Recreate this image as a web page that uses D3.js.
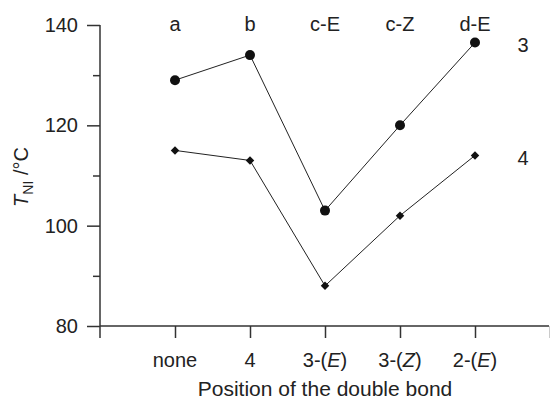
<!DOCTYPE html>
<html><head><meta charset="utf-8">
<script src="https://cdn.jsdelivr.net/npm/d3@7"></script>
<style>body{margin:0;background:#fff}text{font-family:"Liberation Sans",Arial,sans-serif;fill:#222}</style>
</head><body><svg id="c" width="550" height="401"></svg>
<script>
const categories = ["none", "4", "3-(E)", "3-(Z)", "2-(E)"];
const topLabels = ["a", "b", "c-E", "c-Z", "d-E"];
const series3 = [129, 134, 103, 120, 136.5];
const series4 = [115, 113, 88, 102, 114];
const yTicks = [80, 100, 120, 140];
const yMinor = [90, 110, 130];

const svg = d3.select("#c");
const x = d3.scaleLinear().domain([0, 6]).range([100, 550]);
const y = d3.scaleLinear().domain([80, 140]).range([326, 25]);
const axisColor = "#333";

// Y axis
const yAxis = svg.append("g").attr("transform", "translate(100,0)")
  .call(d3.axisLeft(y).tickValues(yTicks).tickSize(13).tickPadding(9).tickFormat(d3.format("d")));
yAxis.select(".domain").remove();
yAxis.selectAll(".tick line").attr("stroke", axisColor).attr("stroke-width", 1.5);
yAxis.selectAll("text").attr("font-size", 20).style("fill", "#222").attr("font-family", "Liberation Sans, Arial, sans-serif");
svg.append("g").attr("transform", "translate(100,0)")
  .call(d3.axisLeft(y).tickValues(yMinor).tickSize(7).tickFormat(""))
  .call(g => g.select(".domain").remove())
  .selectAll(".tick line").attr("stroke", axisColor).attr("stroke-width", 1.5);
svg.append("line").attr("x1", 100).attr("x2", 100).attr("y1", y(140)).attr("y2", 338)
  .attr("stroke", axisColor).attr("stroke-width", 1.5);

// X axis
const xAxis = svg.append("g").attr("transform", `translate(0,${y(80)})`)
  .call(d3.axisBottom(x).tickValues([1,2,3,4,5,6]).tickSize(12).tickFormat(""));
xAxis.select(".domain").remove();
xAxis.selectAll(".tick line").attr("stroke", axisColor).attr("stroke-width", 1.5);
svg.append("line").attr("x1", 100).attr("x2", 549).attr("y1", y(80)).attr("y2", y(80))
  .attr("stroke", axisColor).attr("stroke-width", 1.5);

// Category labels
categories.forEach((c, i) => {
  const t = svg.append("text").attr("x", x(i + 1)).attr("y", 367).attr("text-anchor", "middle").attr("font-size", 20);
  const m = c.match(/^(.*\()([EZ])(\))$/);
  if (m) {
    t.append("tspan").text(m[1]);
    t.append("tspan").attr("font-style", "italic").text(m[2]);
    t.append("tspan").text(m[3]);
  } else t.text(c);
});
topLabels.forEach((c, i) => {
  svg.append("text").attr("x", x(i + 1)).attr("y", 31).attr("text-anchor", "middle").attr("font-size", 20).text(c);
});

// Axis titles
svg.append("text").attr("x", 325).attr("y", 396).attr("text-anchor", "middle").attr("font-size", 21)
  .text("Position of the double bond");
const yl = svg.append("text").attr("transform", "translate(28,177) rotate(-90)").attr("text-anchor", "middle").attr("font-size", 20);
yl.append("tspan").attr("font-style", "italic").text("T");
yl.append("tspan").attr("font-size", 14).attr("dy", 5).text("NI");
yl.append("tspan").attr("dy", -5).text(" /°C");

// Lines
const line = d3.line().x((d, i) => x(i + 1)).y(d => y(d));
[series3, series4].forEach(s => {
  svg.append("path").attr("d", line(s)).attr("fill", "none").attr("stroke", "#222").attr("stroke-width", 1);
});
svg.selectAll(".c3").data(series3).enter().append("circle")
  .attr("cx", (d, i) => x(i + 1)).attr("cy", d => y(d)).attr("r", 5).attr("fill", "#111");
svg.selectAll(".d4").data(series4).enter().append("path")
  .attr("d", d3.symbol().type(d3.symbolSquare).size(36))
  .attr("transform", (d, i) => `translate(${x(i + 1)},${y(d)}) rotate(45)`).attr("fill", "#111");

// Series labels
svg.append("text").attr("x", 523).attr("y", 52).attr("text-anchor", "middle").attr("font-size", 20).text("3");
svg.append("text").attr("x", 523).attr("y", 165).attr("text-anchor", "middle").attr("font-size", 20).text("4");
</script></body></html>
